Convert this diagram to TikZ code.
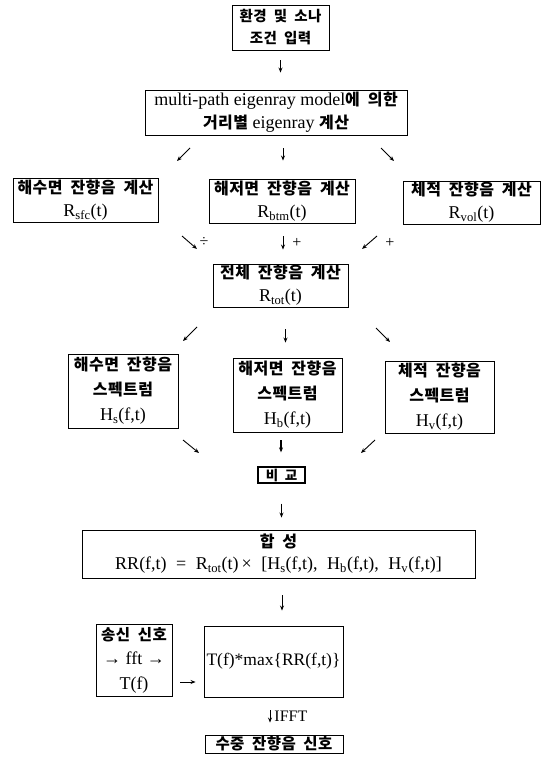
\documentclass[tikz,border=0pt]{standalone}
\usepackage{fontspec}
\setmainfont{Liberation Serif}
\newfontfamily\krfont[LetterSpace=3,WordSpace=1.9]{Noto Sans CJK KR}
\newcommand\kor[2][16]{{\krfont\bfseries\fontsize{#1}{20}\selectfont #2}}
\usetikzlibrary{arrows.meta,calc}
\tikzset{
  box/.style={draw, line width=0.9pt, inner sep=0pt, align=center,
    font=\fontsize{18}{23}\selectfont},
  box3/.style={box, font=\fontsize{18}{25}\selectfont},
  arr/.style={line width=0.9pt, -{Stealth[length=5pt,width=4pt]}},
  lbl/.style={inner sep=0pt, font=\fontsize{16}{18}\selectfont},
}
\begin{document}
\begin{tikzpicture}[x=1pt,y=-1pt]
\useasboundingbox (0,0) rectangle (545,757);
% boxes
\node[box, font=\fontsize{18}{22}\selectfont, minimum width=97pt, minimum height=45pt] (top) at (280.5,27.5)
  {\kor[14.5]{환경 및 소나}\\\kor[14.5]{조건 입력}};
\node[box, minimum width=262pt, minimum height=45pt] (multi) at (276,112.5)
  {multi-path eigenray model\kor{에 의한}\\\kor{거리별} eigenray \kor{계산}};
\node[box, minimum width=145pt, minimum height=44pt] (sfc) at (85.5,200)
  {\kor{해수면 잔향음 계산}\\R\textsubscript{sfc}(t)};
\node[box, minimum width=146pt, minimum height=44pt] (btm) at (282,201)
  {\kor{해저면 잔향음 계산}\\R\textsubscript{btm}(t)};
\node[box, minimum width=137pt, minimum height=43pt] (vol) at (471.5,202.5)
  {\kor{체적 잔향음 계산}\\R\textsubscript{vol}(t)};
\node[box, minimum width=135pt, minimum height=43pt] (tot) at (280.5,285.5)
  {\kor{전체 잔향음 계산}\\R\textsubscript{tot}(t)};
\node[box3, minimum width=110pt, minimum height=74pt] (hs) at (123,391)
  {\kor{해수면 잔향음}\\\kor{스펙트럼}\\H\textsubscript{s}(f,t)};
\node[box3, minimum width=109pt, minimum height=74pt] (hb) at (287.5,395)
  {\kor{해저면 잔향음}\\\kor{스펙트럼}\\H\textsubscript{b}(f,t)};
\node[box3, minimum width=109pt, minimum height=72pt] (hv) at (439.5,397)
  {\kor{체적 잔향음}\\\kor{스펙트럼}\\H\textsubscript{v}(f,t)};
\node[box, line width=1.3pt, minimum width=47pt, minimum height=16pt] (cmp) at (281.5,475)
  {\kor[13.5]{비 교}};
\node[box, font=\fontsize{18}{22}\selectfont, minimum width=393pt, minimum height=48pt] (syn) at (278.5,554)
  {\kor{합 성}\\RR(f,t) \;=\; R\textsubscript{tot}(t)\,× \;[H\textsubscript{s}(f,t),\; H\textsubscript{b}(f,t),\; H\textsubscript{v}(f,t)]};
\node[box, font=\fontsize{18}{24.5}\selectfont, minimum width=76pt, minimum height=72pt] (tx) at (134,660)
  {\kor[15.5]{송신 신호}\\→ fft →\\T(f)};
\node[box, font=\fontsize{17.5}{23}\selectfont, minimum width=139pt, minimum height=71pt] (mx) at (273.5,661.5)
  {T(f)*max\{RR(f,t)\}};
\node[box, minimum width=138pt, minimum height=18pt] (out) at (274,744)
  {\kor[15.5]{수중 잔향음 신호}};
% arrow coordinates
\coordinate (a1s) at (190,148); \coordinate (a1e) at (177,161);
\coordinate (a2s) at (381,148); \coordinate (a2e) at (394,161);
\coordinate (b1s) at (182,236); \coordinate (b1e) at (197,249);
\coordinate (b3s) at (377,236); \coordinate (b3e) at (362,249);
\coordinate (c1s) at (197,327); \coordinate (c1e) at (183,341);
\coordinate (c3s) at (376,328); \coordinate (c3e) at (390,342);
\coordinate (d1s) at (183,440); \coordinate (d1e) at (199,453);
\coordinate (d3s) at (375,440); \coordinate (d3e) at (361,453);
% connectors
\draw[arr, shorten <=10pt, shorten >=17pt] (top.south) -- (top.south |- multi.north);
\draw[arr] (a1s) -- (a1e);
\draw[arr, shorten <=13pt, shorten >=18pt] ([xshift=7pt]multi.south) -- ([xshift=7pt]multi.south |- btm.north);
\draw[arr] (a2s) -- (a2e);
\draw[arr] (b1s) -- (b1e);
\node[lbl] (p1) at (204,242) {÷};
\draw[arr, shorten <=13pt, shorten >=14pt] ([xshift=1pt]btm.south) -- ([xshift=1pt]btm.south |- tot.north);
\node[lbl] (p2) at (297,243) {+};
\draw[arr] (b3s) -- (b3e);
\node[lbl] (p3) at (390,243) {+};
\draw[arr] (c1s) -- (c1e);
\draw[arr, shorten <=22pt, shorten >=15pt] ([xshift=5pt]tot.south) -- ([xshift=5pt]tot.south |- hb.north);
\draw[arr] (c3s) -- (c3e);
\draw[arr] (d1s) -- (d1e);
\draw[arr, line width=1.3pt, shorten <=8pt, shorten >=14pt] ([xshift=-6.5pt]hb.south) -- ([xshift=-6.5pt]hb.south |- cmp.north);
\draw[arr] (d3s) -- (d3e);
\draw[arr, line width=1.3pt, shorten <=20pt, shorten >=12pt] (cmp.south) -- (cmp.south |- syn.north);
\draw[arr, shorten <=17pt, shorten >=15pt] ([xshift=3.5pt]syn.south) -- ([xshift=3.5pt]syn.south |- mx.north);
\draw[arr, shorten <=8pt, shorten >=8pt] ([yshift=-22pt]tx.east) -- ([yshift=-22pt]tx.east -| mx.west);
\draw[arr, shorten <=13pt, shorten >=12pt] ([xshift=-3.5pt]mx.south) -- ([xshift=-3.5pt]mx.south |- out.north)
  node[midway, right=4pt, lbl] (ifft) {IFFT};
\end{tikzpicture}
\end{document}
